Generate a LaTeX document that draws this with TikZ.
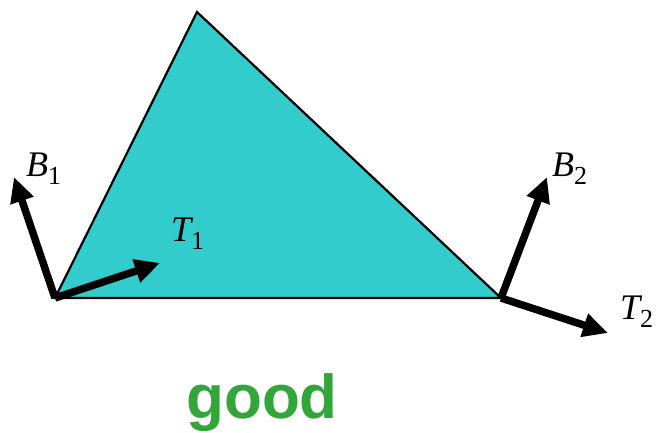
\documentclass[tikz,border=0pt]{standalone}
\usepackage{fontspec}
\setmainfont{Liberation Serif}
\newfontfamily\goodfont{Liberation Sans}
\usetikzlibrary{arrows.meta}
\definecolor{trifill}{RGB}{51,204,204}
\definecolor{goodgreen}{RGB}{51,166,57}
\newcommand{\veclab}[2]{{\fontsize{36}{36}\selectfont\itshape #1}\raisebox{-8pt}{\fontsize{26}{26}\selectfont #2}}
\begin{document}
\begin{tikzpicture}[x=1pt,y=-1pt,
  vec/.style={line width=7.5pt,-{Triangle[length=25pt,width=23pt]}},
  lab/.style={anchor=base west,inner sep=0pt}]
\useasboundingbox (0,0) rectangle (658,432);
\coordinate (top) at (197,12);
\coordinate (v1) at (55,298);
\coordinate (v2) at (501,298);
\coordinate (b1tip) at (14,177);
\coordinate (t1tip) at (160,263);
\coordinate (b2tip) at (547,177);
\coordinate (t2tip) at (608,333);
\draw[fill=trifill,line width=2.2pt,line join=miter] (top) -- (v1) -- (v2) -- cycle;
\draw[vec] (v1) -- (b1tip);
\draw[vec] (v1) -- (t1tip);
\draw[vec] (v2) -- (b2tip);
\draw[vec] (v2) -- (t2tip);
\node[lab] (lb1) at (26,176) {\veclab{B}{1}};
\node[lab] (lt1) at (171,241) {\veclab{T}{1}};
\node[lab] (lb2) at (552,176) {\veclab{B}{2}};
\node[lab] (lt2) at (620,319) {\veclab{T}{2}};
\node[anchor=base,inner sep=0pt,text=goodgreen] (good) at (262,418) {\goodfont\bfseries\fontsize{62}{62}\selectfont good};
\end{tikzpicture}
\end{document}
